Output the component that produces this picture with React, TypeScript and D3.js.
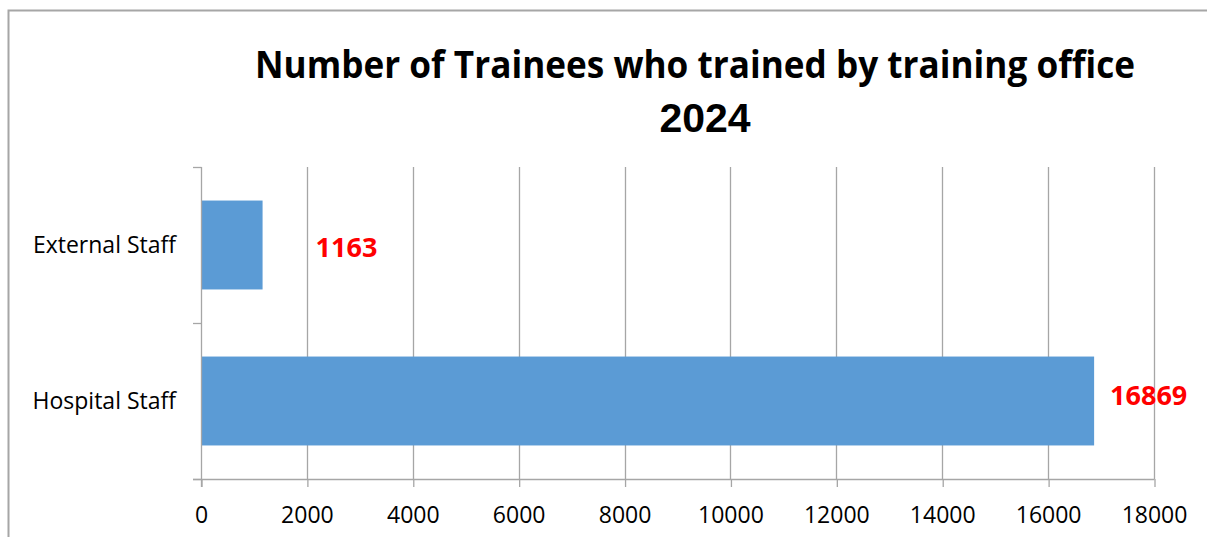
import React, { useEffect, useRef } from 'react';
import * as d3 from 'd3';

const categories = ['External Staff', 'Hospital Staff'];
const trainees = [1163, 16869];
const xTicks = [0, 2000, 4000, 6000, 8000, 10000, 12000, 14000, 16000, 18000];
const titleLine1 = 'Number of Trainees who trained by training office';
const titleLine2 = '2024';

const App: React.FC = () => {
    const chartRef = useRef<SVGSVGElement | null>(null);

    useEffect(() => {
        if (!chartRef.current) return;
        const svg = d3.select(chartRef.current);
        svg.selectAll('*').remove();

        const width = 1207;
        const height = 537;
        const margin = { top: 167, right: 53, bottom: 58, left: 201 };
        const font = '"Open Sans", "DejaVu Sans", sans-serif';
        const gridColor = '#a6a6a6';

        svg.attr('width', width).attr('height', height);

        // outer frame (top + left edge only visible)
        svg.append('path')
            .attr('d', `M8.5,${height} V10.5 H${width}`)
            .attr('fill', 'none')
            .attr('stroke', '#a6a6a6')
            .attr('stroke-width', 2);

        const x = d3.scaleLinear()
            .domain([0, 18000])
            .range([margin.left, width - margin.right]);

        const y = d3.scaleBand()
            .domain(categories)
            .range([margin.top, height - margin.bottom])
            .paddingInner(0.43)
            .paddingOuter(0.215);

        const bottom = height - margin.bottom;

        // vertical gridlines
        svg.append('g')
            .selectAll('line')
            .data(xTicks.slice(1))
            .enter().append('line')
            .attr('x1', d => Math.round(x(d)) + 0.5)
            .attr('x2', d => Math.round(x(d)) + 0.5)
            .attr('y1', margin.top)
            .attr('y2', bottom)
            .attr('stroke', gridColor)
            .attr('stroke-width', 1.3);

        // bars
        svg.selectAll('.bar')
            .data(trainees)
            .enter().append('rect')
            .attr('class', 'bar')
            .attr('x', x(0))
            .attr('y', (_d, i) => y(categories[i]) as number)
            .attr('width', d => x(d) - x(0))
            .attr('height', y.bandwidth())
            .attr('fill', '#5b9bd5');

        // x axis
        const xAxis = svg.append('g')
            .attr('transform', `translate(0,${bottom})`)
            .call(d3.axisBottom(x).tickValues(xTicks).tickSize(8).tickPadding(20).tickFormat(d => String(d)));
        xAxis.select('.domain').remove();
        xAxis.selectAll('line').attr('stroke', gridColor).attr('stroke-width', 1.3)
            .attr('transform', 'translate(0.5,0)');
        xAxis.selectAll('text')
            .attr('font-family', font)
            .attr('font-size', 23)
            .attr('fill', '#000');
        svg.append('line')
            .attr('x1', margin.left - 8)
            .attr('x2', x(18000) + 0.5)
            .attr('y1', bottom + 0.5)
            .attr('y2', bottom + 0.5)
            .attr('stroke', gridColor)
            .attr('stroke-width', 1.3);

        // y axis
        const boundaries = [margin.top, (y(categories[1]) as number) - y.step() * y.paddingInner() / 2, bottom];
        svg.append('line')
            .attr('x1', margin.left + 0.5)
            .attr('x2', margin.left + 0.5)
            .attr('y1', margin.top)
            .attr('y2', bottom + 8)
            .attr('stroke', gridColor)
            .attr('stroke-width', 1.3);
        svg.append('g')
            .selectAll('line')
            .data(boundaries)
            .enter().append('line')
            .attr('x1', margin.left - 8)
            .attr('x2', margin.left + 0.5)
            .attr('y1', d => Math.round(d) + 0.5)
            .attr('y2', d => Math.round(d) + 0.5)
            .attr('stroke', gridColor)
            .attr('stroke-width', 1.3);

        svg.append('g')
            .selectAll('text')
            .data(categories)
            .enter().append('text')
            .attr('x', margin.left - 25)
            .attr('y', d => (y(d) as number) + y.bandwidth() / 2 + 8)
            .attr('text-anchor', 'end')
            .attr('font-family', font)
            .attr('font-size', 23)
            .attr('fill', '#000')
            .text(d => d);

        // value labels
        const labelDx = [53, 16];
        svg.append('g')
            .selectAll('text')
            .data(trainees)
            .enter().append('text')
            .attr('x', (d, i) => x(d) + labelDx[i])
            .attr('y', (_d, i) => (y(categories[i]) as number) + y.bandwidth() / 2 + (i === 0 ? 12 : 4))
            .attr('font-family', font)
            .attr('font-weight', 700)
            .attr('font-size', 27)
            .attr('fill', '#ff0000')
            .text(d => String(d));

        // title
        svg.append('text')
            .attr('x', 695)
            .attr('y', 78)
            .attr('text-anchor', 'middle')
            .attr('font-family', font)
            .attr('font-weight', 700)
            .attr('font-size', 38)
            .attr('textLength', 880)
            .attr('lengthAdjust', 'spacingAndGlyphs')
            .attr('fill', '#000')
            .text(titleLine1);
        svg.append('text')
            .attr('x', 705)
            .attr('y', 132)
            .attr('text-anchor', 'middle')
            .attr('font-family', '"Liberation Sans", Arial, sans-serif')
            .attr('font-weight', 700)
            .attr('font-size', 41)
            .attr('fill', '#000')
            .text(titleLine2);
    }, []);

    return (
        <svg ref={chartRef} style={{ position: 'absolute', left: 0, top: 0, background: '#fff' }} />
    );
};

export default App;
